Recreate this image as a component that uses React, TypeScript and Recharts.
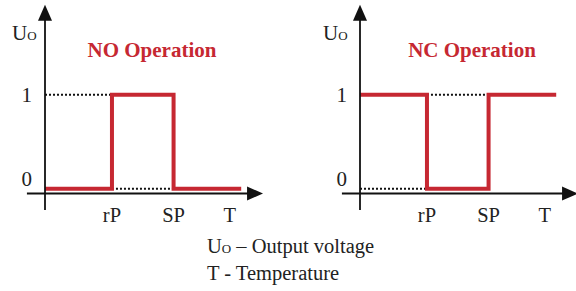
import React from "react";
import { LineChart, Line, XAxis, YAxis, ReferenceLine } from "recharts";

// temperature positions of the switching points (rP, SP) and the end of the trace
const temperature = [0, 1, 1, 1.92, 1.92, 2.93];
const noOutput = [0, 0, 1, 1, 0, 0];
const ncOutput = [1, 1, 0, 0, 1, 1];

const tickLabels = ["rP", "SP", "T"];
const tickValues = [1, 1.92, 2.76];
const levelTicks = [0, 1];

const RED = "#c62832";
const SERIF = "'Liberation Serif', 'Times New Roman', serif";

const noData = temperature.map((t, i) => ({ t, u: noOutput[i] }));
const ncData = temperature.map((t, i) => ({ t, u: ncOutput[i] }));

// axis extents in data units
const X_AXIS = [{ x: -0.27, y: -0.051 }, { x: 3.256, y: -0.051 }];
const Y_AXIS = [{ x: 0, y: -0.227 }, { x: 0, y: 1.96 }];

const Arrow = (props: any) => {
  const { x1, y1, x2, y2 } = props;
  const dx = x2 - x1;
  const dy = y2 - y1;
  const len = Math.hypot(dx, dy) || 1;
  const ux = dx / len;
  const uy = dy / len;
  const head = 16;
  const half = 7;
  const bx = x2 - ux * head;
  const by = y2 - uy * head;
  return (
    <g>
      <line x1={x1} y1={y1} x2={bx + ux * 2} y2={by + uy * 2} stroke="#111" strokeWidth={1.8} />
      <polygon
        points={`${x2},${y2} ${bx - uy * half},${by + ux * half} ${bx + uy * half},${by - ux * half}`}
        fill="#111"
      />
    </g>
  );
};

const YTick = (props: any) => {
  const { x, y, payload } = props;
  const shift = payload.value === 0 ? -10 : 0;
  return (
    <text x={x - 13} y={y + shift} dy="0.35em" textAnchor="end" fontSize={21} fontFamily={SERIF} fill="#222">
      {payload.value}
    </text>
  );
};

const XTick = (props: any) => {
  const { x, y, payload } = props;
  const idx = tickValues.indexOf(payload.value);
  return (
    <text x={x} y={y + 20} textAnchor="middle" fontSize={20.5} fontFamily={SERIF} fill="#222">
      {tickLabels[idx]}
    </text>
  );
};

type Seg = { x: number; y: number }[];

function Panel({ data, dotted }: { data: { t: number; u: number }[]; dotted: Seg[] }) {
  return (
    <LineChart width={270} height={225} data={data} margin={{ top: 1, right: 0, left: 0, bottom: 0 }}>
      <XAxis
        type="number"
        dataKey="t"
        domain={[0, 3.36]}
        allowDataOverflow
        ticks={tickValues}
        interval={0}
        height={25}
        axisLine={false}
        tickLine={false}
        tickSize={0}
        tick={<XTick />}
      />
      <YAxis
        type="number"
        domain={[-0.12, 2]}
        allowDataOverflow
        ticks={levelTicks}
        interval={0}
        width={45}
        axisLine={false}
        tickLine={false}
        tickSize={0}
        tickMargin={0}
        tick={<YTick />}
      />
      {dotted.map((seg, i) => (
        <ReferenceLine
          key={i}
          segment={seg}
          stroke="#111"
          strokeWidth={2}
          strokeDasharray="2 2"
          ifOverflow="visible"
        />
      ))}
      <Line
        type="linear"
        dataKey="u"
        stroke={RED}
        strokeWidth={4}
        strokeLinejoin="miter"
        dot={false}
        isAnimationActive={false}
      />
      <ReferenceLine segment={X_AXIS} ifOverflow="visible" shape={<Arrow />} />
      <ReferenceLine segment={Y_AXIS} ifOverflow="visible" shape={<Arrow />} />
    </LineChart>
  );
}

const abs = (left: number, top: number, extra: React.CSSProperties = {}): React.CSSProperties => ({
  position: "absolute",
  left,
  top,
  fontFamily: SERIF,
  lineHeight: "24px",
  whiteSpace: "nowrap",
  color: "#222",
  ...extra,
});

const Uo = () => (
  <>
    U<span style={{ fontSize: 13 }}>O</span>
  </>
);

export default function App() {
  return (
    <div style={{ position: "absolute", left: 0, top: 0, width: 576, height: 291, overflow: "hidden", background: "#fff" }}>
      <div style={{ position: "absolute", left: 0, top: 0 }}>
        <Panel
          data={noData}
          dotted={[
            [{ x: 0, y: 1 }, { x: tickValues[0], y: 1 }],
            [{ x: tickValues[0], y: 0 }, { x: tickValues[1], y: 0 }],
          ]}
        />
      </div>
      <div style={{ position: "absolute", left: 315, top: 0 }}>
        <Panel
          data={ncData}
          dotted={[
            [{ x: tickValues[0], y: 1 }, { x: tickValues[1], y: 1 }],
            [{ x: 0, y: 0 }, { x: tickValues[0], y: 0 }],
          ]}
        />
      </div>
      <div style={abs(12, 21, { fontSize: 21 })}>
        <Uo />
      </div>
      <div style={abs(323, 21, { fontSize: 21 })}>
        <Uo />
      </div>
      <div style={abs(52, 38, { width: 200, textAlign: "center", fontSize: 21, fontWeight: 700, color: RED })}>
        NO Operation
      </div>
      <div style={abs(372, 38, { width: 200, textAlign: "center", fontSize: 21, fontWeight: 700, color: RED })}>
        NC Operation
      </div>
      <div style={abs(207, 234, { fontSize: 20.5, lineHeight: "25px" })}>
        <Uo /> – Output voltage
        <br />T - Temperature
      </div>
    </div>
  );
}
